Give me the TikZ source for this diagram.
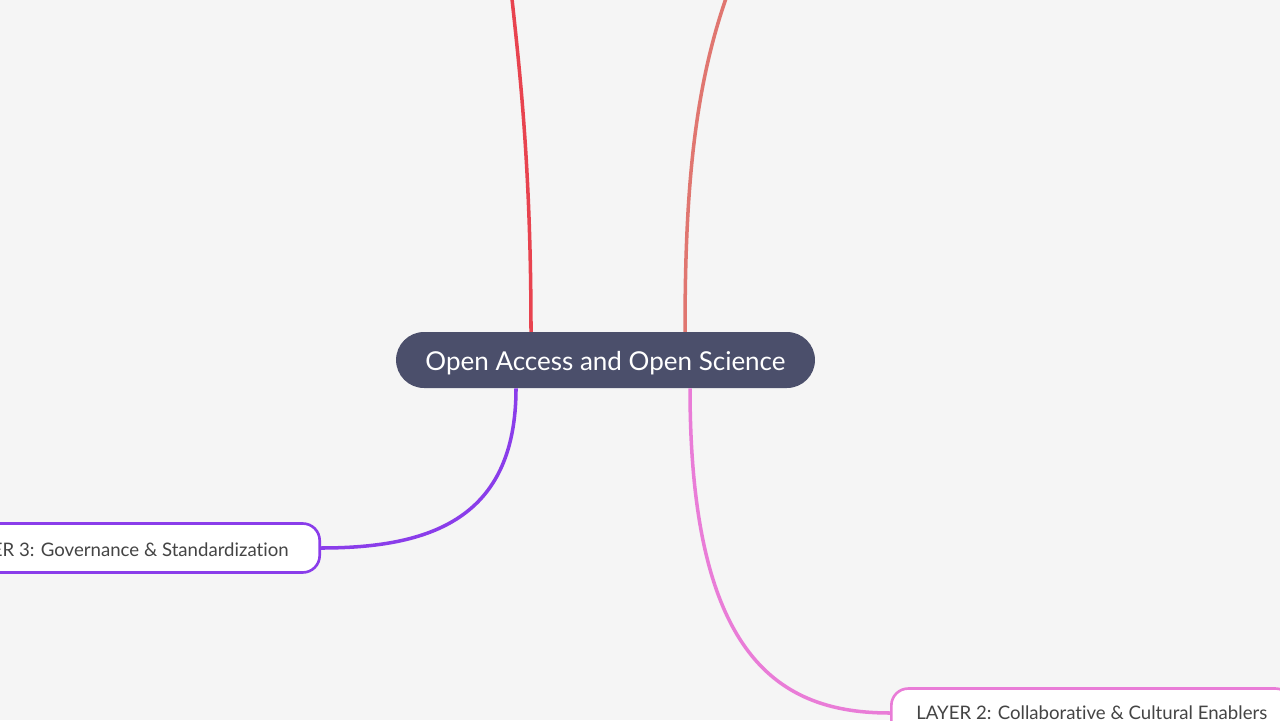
\documentclass[tikz,border=0pt]{standalone}
\usepackage{fontspec}
\setmainfont{Lato}[Ligatures=NoCommon]
\usepackage{tikz}
\usetikzlibrary{calc}

\definecolor{bgcol}{HTML}{F5F5F5}
\definecolor{rootcol}{HTML}{4B4F6B}
\definecolor{redline}{HTML}{E8434F}
\definecolor{salmonline}{HTML}{E07670}
\definecolor{purpleline}{HTML}{8A3DEA}
\definecolor{pinkline}{HTML}{E97CD7}
\definecolor{textcol}{HTML}{444444}

\tikzset{
	rootnode/.style={fill=rootcol, text=white, rounded corners=0.56cm, minimum width=8.38cm, minimum height=1.12cm, inner sep=0pt, font=\fontsize{14.8}{18}\selectfont},
	layernode/.style={draw=#1, fill=white, line width=1.5pt, text=textcol, rounded corners=0.34cm, minimum height=0.98cm, inner xsep=0.62cm, font=\fontsize{10.6}{12}\selectfont},
	branch/.style={line width=2pt, color=#1}
}

\begin{document}
\begin{tikzpicture}[x=0.02cm, y=-0.02cm]
		%%%%% START %%%%%
		
		\fill[bgcol] (0, 0) rectangle (1280, 720);
		\useasboundingbox (0, 0) rectangle (1280, 720);
		
		\coordinate (topleft) at (506, -60);
		\coordinate (topright) at (765, -90);
		
		\draw[branch=redline] (531, 332) .. controls (531, 130) and (514, 30) .. (topleft);
		\draw[branch=salmonline] (685, 332) .. controls (685, 150) and (700, 30) .. (topright);
		
		\node[layernode=purpleline, anchor=east] (layer3) at (321, 548) {\raisebox{-0.03cm}[\height][\depth]{LAYER 3: Governance \& Standardization}};
		\node[layernode=pinkline, anchor=west, inner xsep=0.5cm] (layer2) at (890, 713) {LAYER 2: Collaborative \& Cultural Enablers};
		
		\node[rootnode] (root) at (605.5, 360) {\raisebox{-0.07cm}[\height][\depth]{Open Access and Open Science}};
		
		\draw[branch=purpleline] ($(root.south)+(-89.5, 0)$) .. controls +(0, 130) and +(110, 0) .. (layer3.east);
		\draw[branch=pinkline] ($(root.south)+(84.5, 0)$) .. controls +(0, 270) and +(-110, 0) .. (layer2.west);
		
		%%%%% END %%%%%
	\end{tikzpicture}
\end{document}
